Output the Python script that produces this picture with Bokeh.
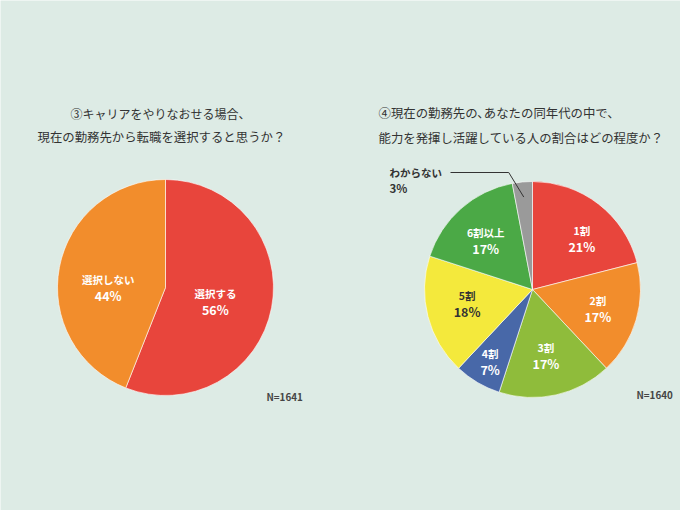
import math
from bokeh.plotting import figure
from bokeh.models import Range1d, ColumnDataSource
from bokeh.core.properties import value
from bokeh.embed import file_html
from bokeh.resources import INLINE

# ---------------- data ----------------
left_title = ["③キャリアをやりなおせる場合、", "現在の勤務先から転職を選択すると思うか？"]
left_labels = ["選択する", "選択しない"]
left_values = [56, 44]
left_n = "N=1641"

right_title = ["④現在の勤務先の､あなたの同年代の中で、", "能力を発揮し活躍している人の割合はどの程度か？"]
right_labels = ["1割", "2割", "3割", "4割", "5割", "6割以上", "わからない"]
right_values = [21, 17, 17, 7, 18, 17, 3]
right_n = "N=1640"

# ---------------- style ----------------
W, H = 680, 510
BG = "#ddebe5"
FONT = value("Noto Sans CJK JP")
left_colors = ["#e8453c", "#f28d2c"]
right_colors = ["#e8453c", "#f28d2c", "#8fbc3b", "#4868a8", "#f4e93c", "#4ba946", "#9a9a9a"]
right_text_colors = ["white", "white", "white", "white", "#333333", "white", "#333333"]
# label placement: radius fraction and angular nudge (degrees) per slice
left_label_r = [0.48, 0.53]
left_label_da = [5, -11]
right_label_r = [0.66, 0.63, 0.62, 0.77, 0.62, 0.63]
right_label_da = [6, 0, 1, 0, 2, -2]

def Y(sy):
    return H - sy

p = figure(width=W, height=H, x_range=Range1d(0, W), y_range=Range1d(0, H),
           output_backend="svg", toolbar_location=None, min_border=0)
p.axis.visible = False
p.grid.visible = False
p.outline_line_color = None
p.background_fill_color = BG
p.border_fill_color = BG


def draw_pie(cx, cy, r, vals, colors):
    total = float(sum(vals))
    starts, ends, mids = [], [], []
    cum = 0.0
    for v in vals:
        a0 = cum / total
        cum += v
        a1 = cum / total
        starts.append(math.pi / 2 - 2 * math.pi * a1)
        ends.append(math.pi / 2 - 2 * math.pi * a0)
        mids.append(2 * math.pi * (a0 + a1) / 2)  # clockwise from top
    src = ColumnDataSource(dict(x=[cx] * len(vals), y=[Y(cy)] * len(vals),
                                s=starts, e=ends, c=colors))
    p.wedge(x="x", y="y", radius=r, start_angle="s", end_angle="e",
            fill_color="c", line_color="white", line_width=0.6,
            source=src, direction="anticlock")
    return mids


def label(x, sy, txt, color, size, bold=True, align="center"):
    p.text(x=[x], y=[Y(sy)], text=[txt], text_font=FONT,
           text_font_size=size, text_color=color,
           text_font_style="bold" if bold else "normal",
           text_align=align, text_baseline="middle")


# ---- left pie ----
LCX, LCY, R = 165, 287, 108
mids = draw_pie(LCX, LCY, R, left_values, left_colors)
for i, (lab, v) in enumerate(zip(left_labels, left_values)):
    rr = R * left_label_r[i]
    a = mids[i] + math.radians(left_label_da[i])
    lx = LCX + rr * math.sin(a)
    ly = LCY - rr * math.cos(a)
    label(lx, ly - 8, lab, "white", "10.5px")
    label(lx, ly + 8, f"{v}%", "white", "12.5px")

label(70, 113, left_title[0], "#333333", "12px", bold=False, align="left")
label(37, 136, left_title[1], "#333333", "12.4px", bold=False, align="left")
label(266, 396, left_n, "#444444", "9.8px", bold=True, align="left")

# ---- right pie ----
RCX, RCY = 532, 289
mids = draw_pie(RCX, RCY, R, right_values, right_colors)
for i in range(len(right_values) - 1):
    rr = R * right_label_r[i]
    a = mids[i] + math.radians(right_label_da[i])
    lx = RCX + rr * math.sin(a)
    ly = RCY - rr * math.cos(a)
    label(lx, ly - 8, right_labels[i], right_text_colors[i], "10.5px")
    label(lx, ly + 8, f"{right_values[i]}%", right_text_colors[i], "12.5px")

# outside label for the last (small) slice with leader line
g = len(right_values) - 1
ex = RCX + R * 0.86 * math.sin(mids[g])
ey = RCY - R * 0.86 * math.cos(mids[g])
p.line(x=[450, ex - 15, ex], y=[Y(172), Y(172), Y(ey)], line_color="#333333", line_width=1)
label(389, 172, right_labels[g], "#333333", "10.5px", align="left")
label(389, 187, f"{right_values[g]}%", "#333333", "11.5px", align="left")

label(378, 112, right_title[0], "#333333", "12.4px", bold=False, align="left")
label(378, 137, right_title[1], "#333333", "12.4px", bold=False, align="left")
label(636, 394, right_n, "#444444", "9.8px", bold=True, align="left")

open("out.html", "w").write(file_html(p, INLINE))
